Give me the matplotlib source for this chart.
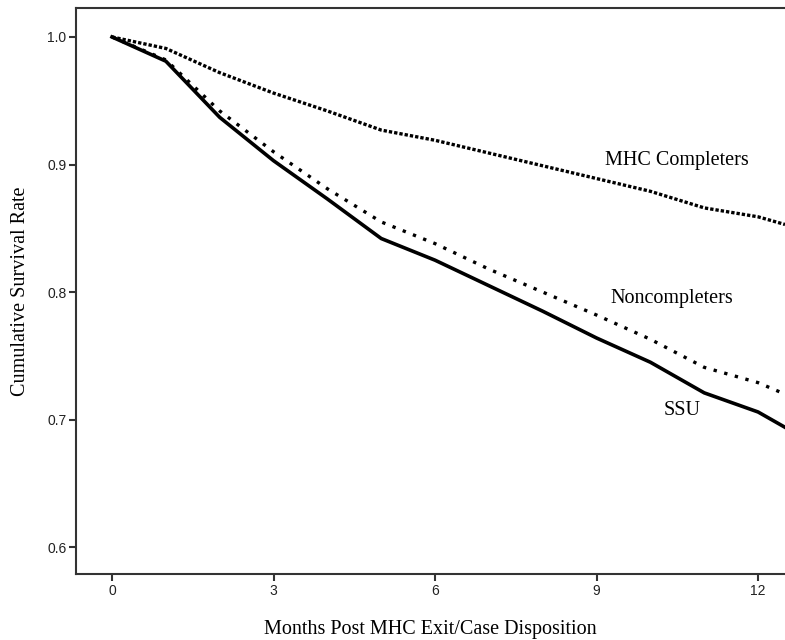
import matplotlib
matplotlib.use("Agg")
import matplotlib.pyplot as plt

months = [0, 1, 2, 3, 4, 5, 6, 7, 8, 9, 10, 11, 12, 12.5]
ssu = [1.0, 0.981, 0.937, 0.903, 0.873, 0.842, 0.825, 0.805, 0.785, 0.764, 0.745, 0.721, 0.706, 0.694]
noncompleters = [1.0, 0.982, 0.942, 0.910, 0.881, 0.855, 0.838, 0.818, 0.800, 0.782, 0.763, 0.741, 0.729, 0.720]
completers = [1.0, 0.991, 0.972, 0.956, 0.942, 0.927, 0.919, 0.909, 0.899, 0.889, 0.879, 0.866, 0.859, 0.853]

xticks = [0, 3, 6, 9, 12]
yticks = [0.6, 0.7, 0.8, 0.9, 1.0]
labels = {"MHC Completers": (10.5, 0.9035), "Noncompleters": (10.4, 0.795), "SSU": (10.59, 0.7075)}

fig = plt.figure(figsize=(7.85, 6.4), dpi=100)
ax = fig.add_axes([76/785, 1 - 574/640, 1 - 76/785, (574 - 8)/640])

ax.plot(months, completers, color="black", lw=2.4, linestyle=(0, (1.0, 0.6)), solid_capstyle="butt")
ax.plot(months, noncompleters, color="black", lw=2.4, linestyle=(0, (1.0, 2.3)))
ax.plot(months, ssu, color="black", lw=2.6, solid_joinstyle="round")

for txt, (x, y) in labels.items():
    ax.text(x, y, txt, fontfamily="Liberation Serif", fontsize=14.5, ha="center", va="center")

ax.set_xlim(-0.669, 12.5)
ax.set_ylim(0.579, 1.0227)
ax.set_xticks(xticks)
ax.set_xticklabels([str(t) for t in xticks])
ax.set_yticks(yticks)
ax.set_yticklabels([f"{t:.1f}" for t in yticks])

for s in ["left", "bottom", "top"]:
    ax.spines[s].set_color("#333333")
    ax.spines[s].set_linewidth(1.5)
ax.spines["right"].set_visible(False)

ax.tick_params(axis="both", direction="out", length=5, width=1.5, color="#333333",
               labelsize=10, labelcolor="#222222", pad=2)
for lab in ax.get_xticklabels() + ax.get_yticklabels():
    lab.set_fontfamily("Liberation Sans")

ax.set_xlabel("Months Post MHC Exit/Case Disposition", fontfamily="Liberation Serif", fontsize=14.5, labelpad=16)
ax.set_ylabel("Cumulative Survival Rate", fontfamily="Liberation Serif", fontsize=14.5, labelpad=12)

fig.savefig("out.png", dpi=100)
